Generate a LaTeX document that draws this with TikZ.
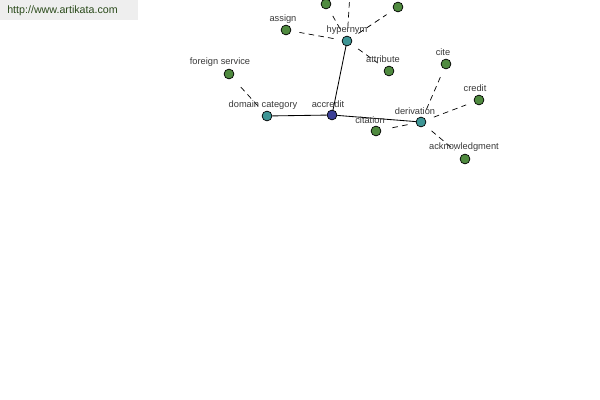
\documentclass[tikz,border=0pt]{standalone}
\usepackage{fontspec}
\setmainfont{Liberation Sans}
\usetikzlibrary{positioning}
\definecolor{leafgreen}{HTML}{4F8A3F}
\definecolor{hubteal}{HTML}{3E9696}
\definecolor{rootblue}{HTML}{3B3F96}
\definecolor{labelgray}{HTML}{3A3A3A}
\definecolor{urlbox}{HTML}{EEEEEE}
\definecolor{urltext}{HTML}{2A4A1A}
\tikzset{
  wordnode/.style={circle,draw=black,line width=0.5pt,minimum size=7pt,inner sep=0pt},
  leafnode/.style={wordnode,fill=leafgreen},
  hubnode/.style={wordnode,fill=hubteal},
  rootnode/.style={wordnode,fill=rootblue},
  wordlabel/.style={font=\fontsize{6.6}{7}\selectfont,text=labelgray,inner sep=1pt},
  mainlink/.style={draw=black,line width=0.6pt},
  sidelink/.style={draw=black,line width=0.5pt,dash pattern=on 4pt off 3pt,shorten <=6pt,shorten >=6pt},
}
\begin{document}
\begin{tikzpicture}[x=0.025cm,y=-0.025cm]
  \useasboundingbox (0,0) rectangle (600,400);
  \fill[white] (0,0) rectangle (600,400);
  \clip (0,0) rectangle (600,400);
  % site banner
  \fill[urlbox] (0,0) rectangle (138,20);
  \node[font=\fontsize{7.6}{9}\selectfont,text=urltext,anchor=west,inner sep=0pt] (url) at (7,11) {http://www.artikata.com};
  % words
  \node[rootnode] (accredit) at (332,115) {};
  \node[hubnode] (domain) at (267,116) {};
  \node[hubnode] (hypernym) at (347,41) {};
  \node[hubnode] (derivation) at (421,122) {};
  \node[leafnode] (foreign) at (229,74) {};
  \node[leafnode] (assign) at (286,30) {};
  \node[leafnode] (attribute) at (389,71) {};
  \node[leafnode] (upleft) at (326,4) {};
  \node[leafnode] (upright) at (398,7) {};
  \coordinate (uptop) at (352,-40);
  \node[leafnode] (cite) at (446,64) {};
  \node[leafnode] (credit) at (479,100) {};
  \node[leafnode] (citation) at (376,131) {};
  \node[leafnode] (acknow) at (465,159) {};
  % links
  \draw[mainlink] (accredit) -- (domain);
  \draw[mainlink] (accredit) -- (hypernym);
  \draw[mainlink] (accredit) -- (derivation);
  \draw[sidelink] (domain) -- (foreign);
  \draw[sidelink] (hypernym) -- (assign);
  \draw[sidelink] (hypernym) -- (attribute);
  \draw[sidelink] (hypernym) -- (upleft);
  \draw[sidelink] (hypernym) -- (upright);
  \draw[sidelink] (hypernym) -- (uptop);
  \draw[sidelink] (derivation) -- (cite);
  \draw[sidelink] (derivation) -- (credit);
  \draw[sidelink] (derivation) -- (citation);
  \draw[sidelink] (derivation) -- (acknow);
  % labels
  \node[wordlabel] (accreditlbl) at (328,104) {accredit};
  \node[wordlabel] (domainlbl) at (263,105) {domain category};
  \node[wordlabel] (hypernymlbl) at (347,30) {hypernym};
  \node[wordlabel] (derivationlbl) at (415,111) {derivation};
  \node[wordlabel] (foreignlbl) at (220,62) {foreign service};
  \node[wordlabel] (assignlbl) at (283,19) {assign};
  \node[wordlabel] (attributelbl) at (383,59) {attribute};
  \node[wordlabel] (citelbl) at (443,52) {cite};
  \node[wordlabel] (creditlbl) at (475,88) {credit};
  \node[wordlabel] (citationlbl) at (370,120) {citation};
  \node[wordlabel] (acknowlbl) at (464,147) {acknowledgment};
\end{tikzpicture}
\end{document}
